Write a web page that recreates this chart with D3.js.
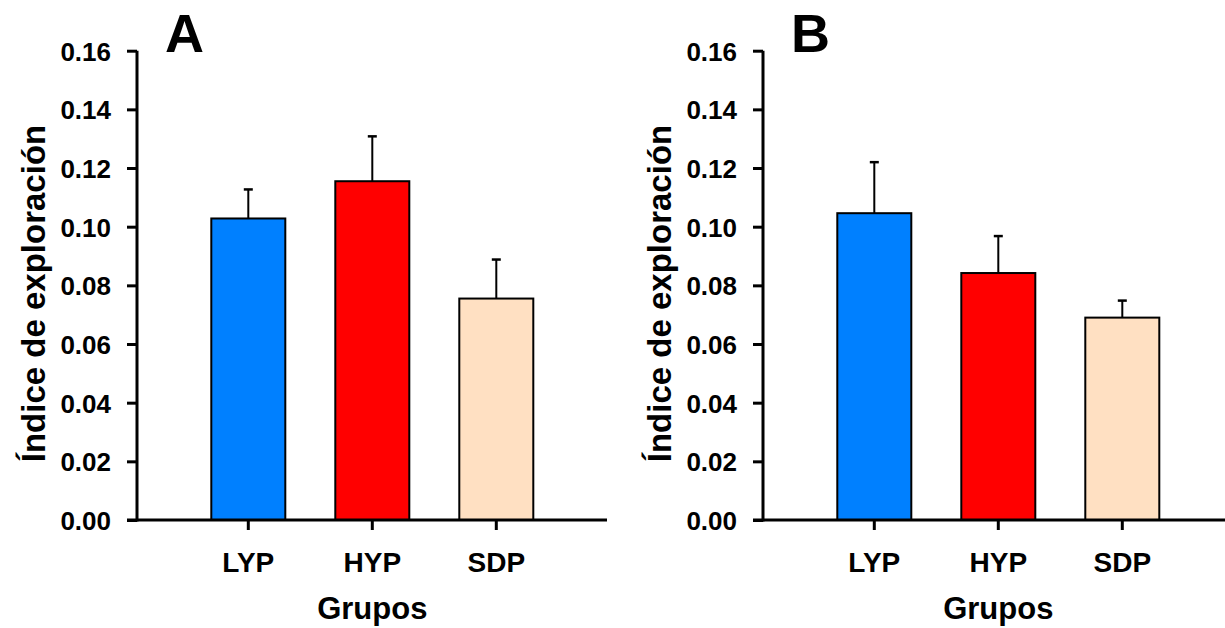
<!DOCTYPE html>
<html>
<head>
<meta charset="utf-8">
<script src="https://cdn.jsdelivr.net/npm/d3@7"></script>
<style>
  html, body { margin: 0; padding: 0; background: #fff; }
  svg { display: block; font-family: "Liberation Sans", Arial, sans-serif; font-weight: bold; }
</style>
</head>
<body>
<svg id="chart" width="1225" height="628"></svg>
<script>
// Groups and colours
const groups = ["LYP", "HYP", "SDP"];
const groupColors = ["#0080FF", "#FF0000", "#FFE0C2"];

// Panel A: mean and standard error
const meansA = [0.1028, 0.1155, 0.0755];
const errorsA = [0.0099, 0.0153, 0.0133];

// Panel B: mean and standard error
const meansB = [0.1046, 0.0842, 0.0690];
const errorsB = [0.0174, 0.0126, 0.0058];

// Y axis ticks
const yTicks = [0, 0.02, 0.04, 0.06, 0.08, 0.10, 0.12, 0.14, 0.16];

const panelLetters = ["A", "B"];
const yTitle = "Índice de exploración";
const xTitle = "Grupos";

const svg = d3.select("#chart");

function drawPanel(x0, axisEnd, letter, means, errors) {
  const g = svg.append("g");

  const y = d3.scaleLinear().domain([0, 0.16]).range([520, 50.7]);
  const x = d3.scaleBand().domain(groups)
    .range([x0 + 74.3, x0 + 396.3])
    .paddingInner(0.4032).paddingOuter(0);

  // error bars (upper only)
  const eb = g.append("g");
  groups.forEach((grp, i) => {
    const cx = x(grp) + x.bandwidth() / 2;
    eb.append("line")
      .attr("x1", cx).attr("x2", cx)
      .attr("y1", y(means[i])).attr("y2", y(means[i] + errors[i]))
      .attr("stroke", "#000").attr("stroke-width", 2);
    eb.append("line")
      .attr("x1", cx - 4.5).attr("x2", cx + 4.5)
      .attr("y1", y(means[i] + errors[i])).attr("y2", y(means[i] + errors[i]))
      .attr("stroke", "#000").attr("stroke-width", 2.5);
  });

  // bars
  g.selectAll("rect.bar").data(groups).enter().append("rect")
    .attr("class", "bar")
    .attr("x", d => x(d))
    .attr("width", x.bandwidth())
    .attr("y", (d, i) => y(means[i]))
    .attr("height", (d, i) => y(0) - y(means[i]))
    .attr("fill", (d, i) => groupColors[i])
    .attr("stroke", "#000").attr("stroke-width", 2);

  // y axis
  const yAxis = d3.axisLeft(y).tickValues(yTicks)
    .tickFormat(d3.format(".2f")).tickSize(10).tickPadding(16);
  const ya = g.append("g").attr("transform", `translate(${x0},0)`).call(yAxis);
  ya.select(".domain").attr("stroke-width", 3).attr("d", `M0,${y(0.16)}V${y(0) + 1.5}`);
  ya.selectAll(".tick line").attr("stroke-width", 3);
  ya.selectAll(".tick text")
    .attr("font-size", 26).attr("font-weight", "bold")
    .attr("font-family", "'Liberation Sans', Arial, sans-serif")
    .attr("fill", "#000").attr("dy", "0.36em");

  // x axis
  const xAxis = d3.axisBottom(x).tickSize(10).tickPadding(22);
  const xa = g.append("g").attr("transform", `translate(0,${y(0)})`).call(xAxis);
  xa.select(".domain").attr("stroke-width", 3).attr("d", `M${x0 - 10},0H${axisEnd}`);
  xa.selectAll(".tick line").attr("stroke-width", 3);
  xa.selectAll(".tick text")
    .attr("font-size", 28).attr("font-weight", "bold")
    .attr("font-family", "'Liberation Sans', Arial, sans-serif")
    .attr("fill", "#000");

  // axis titles
  g.append("text")
    .attr("transform", `translate(${x0 - 92},293.5) rotate(-90)`)
    .attr("text-anchor", "middle")
    .attr("font-size", 33)
    .text(yTitle);

  g.append("text")
    .attr("x", x("HYP") + x.bandwidth() / 2)
    .attr("y", 619)
    .attr("text-anchor", "middle")
    .attr("font-size", 31)
    .text(xTitle);

  // panel letter
  g.append("text")
    .attr("x", x0 + 28).attr("y", 52)
    .attr("font-size", 54)
    .text(letter);
}

drawPanel(137, 607, panelLetters[0], meansA, errorsA);
drawPanel(763, 1225, panelLetters[1], meansB, errorsB);
</script>
</body>
</html>
